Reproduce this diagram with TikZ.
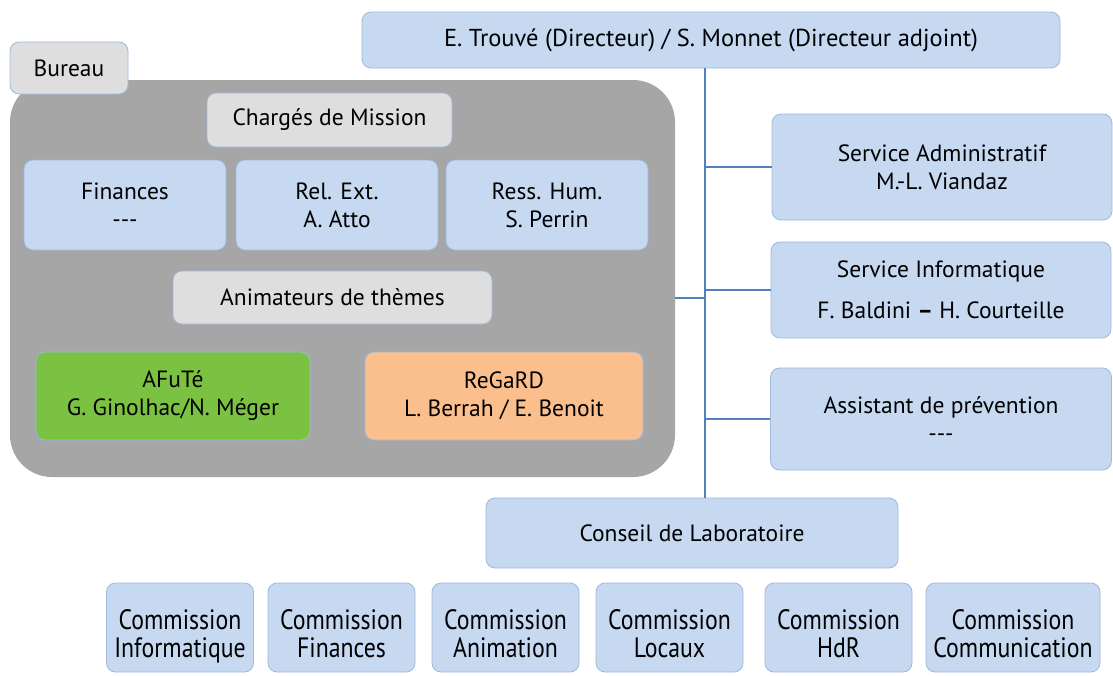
\documentclass[tikz,border=0pt]{standalone}
\usepackage{fontspec}
\setmainfont{PT Sans}
\usetikzlibrary{calc}
\definecolor{boxblue}{HTML}{C6D9F1}
\definecolor{edgeblue}{HTML}{9DB9DE}
\definecolor{linkblue}{HTML}{4F81BD}
\definecolor{panelgrey}{HTML}{A6A6A6}
\definecolor{tabgrey}{HTML}{DEDEDE}
\definecolor{teamgreen}{HTML}{7CC242}
\definecolor{teamorange}{HTML}{FBBF8E}
\tikzset{
  unit/.style={draw=edgeblue, line width=0.8pt, fill=boxblue, rounded corners=9pt,
    align=center, inner sep=0pt, font=\fontsize{23.5}{28}\selectfont},
  tab/.style={unit, fill=tabgrey},
  panel/.style={fill=panelgrey, draw=none, rounded corners=42pt, inner sep=0pt},
  committee/.style={unit, minimum height=89pt, text height=62pt, text depth=3pt,
    font=\fontsize{28}{28}\selectfont},
  link/.style={draw=linkblue, line width=2pt},
}
\newcommand{\narrow}[1]{\scalebox{0.85}[1]{#1}}
\newcommand{\nobody}{-{}-{}-}
\begin{document}
\begin{tikzpicture}[x=1pt,y=-1pt]
\useasboundingbox (0,0) rectangle (1113,675);

% Bureau panel and its members
\node[panel, minimum width=665pt, minimum height=397pt] (bureaubox) at (342.5,278.5) {};
\node[tab, minimum width=118pt, minimum height=52pt] (bureau) at (69,68) {Bureau};
\node[tab, minimum width=245pt, minimum height=54pt] (charges) at (329.5,120) {Chargés de Mission};
\node[unit, minimum width=202pt, minimum height=90pt] (fin) at (125,205) {Finances\\\nobody};
\node[unit, minimum width=202pt, minimum height=90pt] (rel) at (337,205) {Rel. Ext.\\A. Atto};
\node[unit, minimum width=202pt, minimum height=90pt] (ress) at (547,205) {Ress. Hum.\\S. Perrin};
\node[tab, minimum width=319pt, minimum height=53pt] (anim) at (332.5,297.5) {Animateurs de thèmes};
\node[unit, fill=teamgreen, minimum width=274pt, minimum height=88pt] (afute) at (173,396) {AFuTé\\G. Ginolhac/N. Méger};
\node[unit, fill=teamorange, minimum width=278pt, minimum height=88pt] (regard) at (504,396) {ReGaRD\\L. Berrah / E. Benoit};

% Direction and services
\node[unit, minimum width=698pt, minimum height=56pt, font=\fontsize{24.5}{28}\selectfont] (dir) at (711,40) {E. Trouvé (Directeur) / S. Monnet (Directeur adjoint)};
\node[unit, minimum width=340pt, minimum height=106pt] (svcadm) at (942,167) {Service Administratif\\M.-L. Viandaz};
\node[unit, minimum width=340pt, minimum height=96pt] (svcinf) at (941,290) {Service Informatique\\[13pt]F. Baldini \textbf{–} H. Courteille};
\node[unit, minimum width=341pt, minimum height=102pt] (prev) at (941,419) {Assistant de prévention\\\nobody};
\node[unit, minimum width=412pt, minimum height=70pt] (conseil) at (692,533) {Conseil de Laboratoire};

% Commissions
\node[committee, minimum width=147pt] (cinfo) at (180,627.5) {\narrow{Commission}\\\narrow{Informatique}};
\node[committee, minimum width=147pt] (cfin) at (341.5,627.5) {\narrow{Commission}\\\narrow{Finances}};
\node[committee, minimum width=147pt] (canim) at (505.5,627.5) {\narrow{Commission}\\\narrow{Animation}};
\node[committee, minimum width=147pt] (cloc) at (669.5,627.5) {\narrow{Commission}\\\narrow{Locaux}};
\node[committee, minimum width=147pt] (chdr) at (838.5,627.5) {\narrow{Commission}\\\narrow{HdR}};
\node[committee, minimum width=174pt] (ccom) at (1013,627.5) {\narrow{Commission}\\\narrow{Communication}};

% Connectors
\coordinate (trunk) at (705,68);
\path[link] (trunk) -- (trunk |- conseil.north);
\path[link] (svcadm.west) -- (svcadm.west -| trunk);
\path[link] (svcinf.west) -- (svcinf.west -| trunk);
\path[link] (prev.west) -- (prev.west -| trunk);
\path[link] (anim -| bureaubox.east) -- (anim -| trunk);
\end{tikzpicture}
\end{document}
